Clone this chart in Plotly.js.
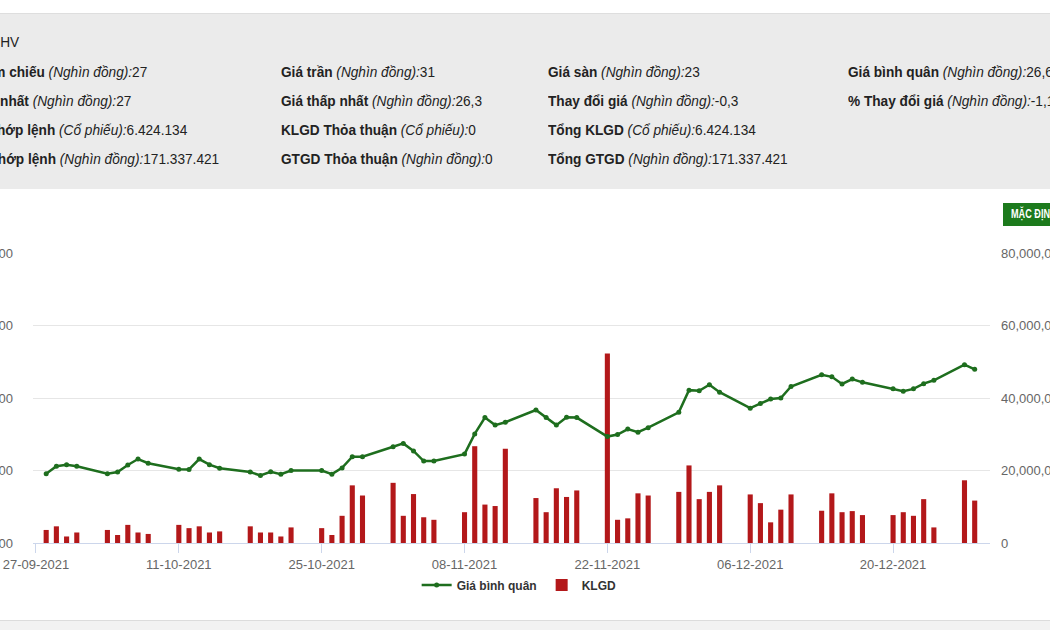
<!DOCTYPE html>
<html>
<head>
<meta charset="utf-8">
<script src="https://cdn.plot.ly/plotly-3.0.1.min.js"></script>
<style>
  html, body { margin:0; padding:0; }
  body { width:1050px; height:630px; overflow:hidden; position:relative; background:#fff;
         font-family:'Liberation Sans',Arial,sans-serif; }
  #hdr { position:absolute; left:0; top:13px; width:1050px; height:175px; background:#ebebeb; border-top:1px solid #dedede; }
  .t { position:absolute; white-space:nowrap; font-size:15px; color:#222; line-height:20px; transform-origin:0 50%; }
  .t b { font-weight:bold; }
  .t i { font-style:italic; }
  #chart { position:absolute; left:-100px; top:0; width:1250px; height:630px; }
  #btn { position:absolute; left:1003px; top:203px; width:80px; height:23px; background:#1c7a1c; }
  #btn span { position:absolute; left:8px; top:0; color:#fff; font-size:12px; font-weight:bold; line-height:23px; white-space:nowrap; transform:scaleX(0.76); transform-origin:0 50%; }
  #foot { position:absolute; left:0; top:620px; width:1050px; height:10px; background:#f2f2f2; border-top:1px solid #dcdcdc; }
</style>
</head>
<body>
<div id="hdr"></div>
<div id="chart"></div>
<div id="btn"><span>MẶC ĐỊNH</span></div>
<div id="foot"></div>
<script>
// ---- data ----
const tradeDates = [
  '2021-09-28','2021-09-29','2021-09-30','2021-10-01',
  '2021-10-04','2021-10-05','2021-10-06','2021-10-07','2021-10-08',
  '2021-10-11','2021-10-12','2021-10-13','2021-10-14','2021-10-15',
  '2021-10-18','2021-10-19','2021-10-20','2021-10-21','2021-10-22',
  '2021-10-25','2021-10-26','2021-10-27','2021-10-28','2021-10-29',
  '2021-11-01','2021-11-02','2021-11-03','2021-11-04','2021-11-05',
  '2021-11-08','2021-11-09','2021-11-10','2021-11-11','2021-11-12',
  '2021-11-15','2021-11-16','2021-11-17','2021-11-18','2021-11-19',
  '2021-11-22','2021-11-23','2021-11-24','2021-11-25','2021-11-26',
  '2021-11-29','2021-11-30','2021-12-01','2021-12-02','2021-12-03',
  '2021-12-06','2021-12-07','2021-12-08','2021-12-09','2021-12-10',
  '2021-12-13','2021-12-14','2021-12-15','2021-12-16','2021-12-17',
  '2021-12-20','2021-12-21','2021-12-22','2021-12-23','2021-12-24',
  '2021-12-27','2021-12-28'
];
const avgPrice = [
  19780,20290,20400,20290,
  19780,19890,20380,20790,20500,
  20090,20070,20790,20400,20160,
  19890,19660,19910,19750,20000,
  20000,19750,20180,20950,20950,
  21640,21870,21350,20650,20650,
  21130,22520,23650,23130,23330,
  24170,23650,23130,23670,23650,
  22340,22480,22860,22640,22950,
  24010,25540,25500,25920,25400,
  24300,24620,24930,25000,25790,
  26600,26460,25970,26310,26080,
  25630,25470,25630,25990,26220,
  27300,26980
];
const volume = [
  3600000,4600000,1800000,2900000,
  3600000,2200000,5000000,2900000,2500000,
  5000000,4100000,4600000,2900000,3200000,
  4600000,2900000,2900000,1800000,4300000,
  4100000,2200000,7500000,15900000,13100000,
  16600000,7500000,13500000,7100000,6400000,
  8500000,26700000,10600000,10200000,26000000,
  12400000,8500000,15100000,12700000,14500000,
  52300000,6400000,6800000,13700000,13100000,
  14100000,21400000,12100000,14100000,15900000,
  13400000,11000000,5700000,9200000,13400000,
  8900000,13700000,8500000,8800000,7700000,
  7700000,8500000,7500000,12100000,4300000,
  17300000,11700000
];
const seriesNames = ['Giá bình quân', 'KLGD'];

// ---- header info ----
const headerTitle = 'Mã CK: HHV';
const infoCols = [
  [['Giá tham chiếu','(Nghìn đồng):','27'],['Giá cao nhất','(Nghìn đồng):','27'],['KLGD khớp lệnh','(Cổ phiếu):','6.424.134'],['GTGD khớp lệnh','(Nghìn đồng):','171.337.421']],
  [['Giá trần','(Nghìn đồng):','31'],['Giá thấp nhất','(Nghìn đồng):','26,3'],['KLGD Thỏa thuận','(Cổ phiếu):','0'],['GTGD Thỏa thuận','(Nghìn đồng):','0']],
  [['Giá sàn','(Nghìn đồng):','23'],['Thay đổi giá','(Nghìn đồng):','-0,3'],['Tổng KLGD','(Cổ phiếu):','6.424.134'],['Tổng GTGD','(Nghìn đồng):','171.337.421']],
  [['Giá bình quân','(Nghìn đồng):','26,67'],['% Thay đổi giá','(Nghìn đồng):','-1,11']]
];
const colX = [0, 281, 548, 848];
const rowY = [72, 101, 130, 159];

function mk(html, left, cy) {
  const d = document.createElement('div');
  d.className = 't';
  d.innerHTML = html;
  d.style.left = left + 'px';
  d.style.top = (cy - 10) + 'px';
  document.body.appendChild(d);
  return d;
}
// condensing factor so that "Giá trần (Nghìn đồng):31" spans ~154px as in the reference
const probe = mk('<b>Giá trần</b> <i>(Nghìn đồng):</i>31', -2000, -100);
const sx = 154 / probe.getBoundingClientRect().width;
probe.remove();

const els = [];
infoCols.forEach((col, ci) => {
  col.forEach((row, ri) => {
    const d = mk('<b>' + row[0] + '</b> <i>' + row[1] + '</i>' + row[2], colX[ci], rowY[ri]);
    d.style.transform = 'scaleX(' + sx + ')';
    els.push([ci, ri, d]);
  });
});
// first column is clipped at the left edge: align so that the last row ends at x=219
const last = els.find(e => e[0] === 0 && e[1] === 3)[2];
const c1 = 219 - last.getBoundingClientRect().width;
els.filter(e => e[0] === 0).forEach(e => { e[2].style.left = c1 + 'px'; });
const tt = mk(headerTitle, 0, 42);
tt.style.transform = 'scaleX(' + sx + ')';
tt.style.left = (19 - tt.getBoundingClientRect().width) + 'px';

// ---- chart ----
const FONT = "'Liberation Sans',Arial,sans-serif";
const traces = [
  {
    type:'bar', name: seriesNames[1], x: tradeDates, y: volume, yaxis:'y',
    marker:{color:'#b3181a'}, width: 0.5*86400000
  },
  {
    type:'scatter', mode:'lines+markers', name: seriesNames[0], x: tradeDates, y: avgPrice, yaxis:'y2',
    line:{color:'#1e6e1e', width:2.5}, marker:{color:'#1e6e1e', size:5}
  }
];
const layout = {
  width:1250, height:630,
  margin:{l:133, r:160, t:253, b:87},
  paper_bgcolor:'rgba(0,0,0,0)', plot_bgcolor:'rgba(0,0,0,0)',
  font:{family:FONT, color:'#666', size:13},
  showlegend:true,
  legend:{orientation:'h', x:0.508, xanchor:'center', y:-0.145, yanchor:'middle',
          font:{family:FONT, size:12, color:'#333', weight:'bold'}, traceorder:'reversed',
          itemwidth:30, bgcolor:'rgba(0,0,0,0)'},
  xaxis:{type:'date', range:['2021-09-26 17:00','2021-12-29 12:00'],
         tick0:'2021-09-27', dtick:14*86400000, tickformat:'%d-%m-%Y',
         showgrid:false, showline:true, linecolor:'#ccd6eb', linewidth:1,
         ticks:'outside', ticklen:9, tickcolor:'#ccd6eb', tickfont:{family:FONT, size:13, color:'#666'},
         zeroline:false},
  yaxis:{side:'right', range:[0,80000000], dtick:20000000, tickformat:',d',
         showgrid:true, gridcolor:'#e6e6e6', gridwidth:1, zeroline:false, showline:false,
         ticks:'', ticklabelstandoff:10, tickfont:{family:FONT, size:13, color:'#666'}},
  yaxis2:{side:'left', overlaying:'y', range:[15000,35000], dtick:5000, tickformat:',d',
          showgrid:false, zeroline:false, showline:false,
          ticks:'', ticklabelstandoff:19, tickfont:{family:FONT, size:13, color:'#666'}},
  bargap:0.2
};
Plotly.newPlot('chart', traces, layout, {staticPlot:true, displayModeBar:false});
</script>
</body>
</html>
